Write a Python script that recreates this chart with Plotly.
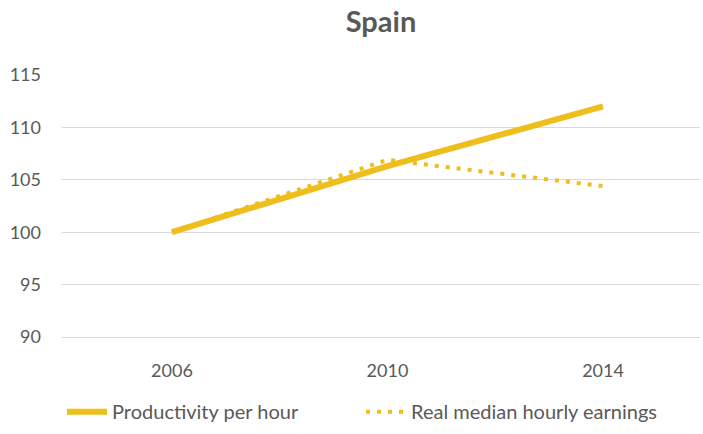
import plotly.graph_objects as go

years = ["2006", "2010", "2014"]
productivity = [100, 106.3, 112]
earnings = [100, 106.9, 104.4]

gold = "#EDBE1C"
txt = "#595959"
font_family = "Lato, 'Open Sans', sans-serif"

fig = go.Figure()
fig.add_trace(go.Scatter(
    x=years, y=earnings, mode="lines", name="Real median hourly earnings",
    line=dict(color=gold, width=4, dash="4px,7px"),
))
fig.add_trace(go.Scatter(
    x=years, y=productivity, mode="lines", name="Productivity per hour",
    line=dict(color=gold, width=6),
))

fig.update_layout(
    width=703, height=434,
    margin=dict(l=62, r=3, t=75, b=95),
    paper_bgcolor="white", plot_bgcolor="white",
    font=dict(family=font_family, color=txt, size=18),
    title=dict(text="<b>Spain</b>", x=0.5, xref="paper", xanchor="center",
               y=1 - 22 / 434, yanchor="middle", yref="container",
               font=dict(size=29, color=txt, family=font_family)),
    showlegend=True,
    legend=dict(orientation="h", x=0.0, xanchor="left", y=-0.285, yanchor="middle",
                traceorder="reversed", font=dict(size=20, color=txt),
                itemwidth=40, entrywidth=244),
)
fig.update_xaxes(
    type="category", range=[-0.51, 2.45], showgrid=False, showline=True,
    linecolor="#D9D9D9", linewidth=1, ticks="", tickfont=dict(size=18, color=txt),
    ticklabelstandoff=17, zeroline=False, fixedrange=True,
)
fig.update_yaxes(
    range=[90, 115], dtick=5, tick0=90, showgrid=True, gridcolor="#D9D9D9",
    gridwidth=1, showline=False, zeroline=False, ticks="",
    tickfont=dict(size=18, color=txt), ticklabelstandoff=20, fixedrange=True,
)

fig.write_html("out.html")
